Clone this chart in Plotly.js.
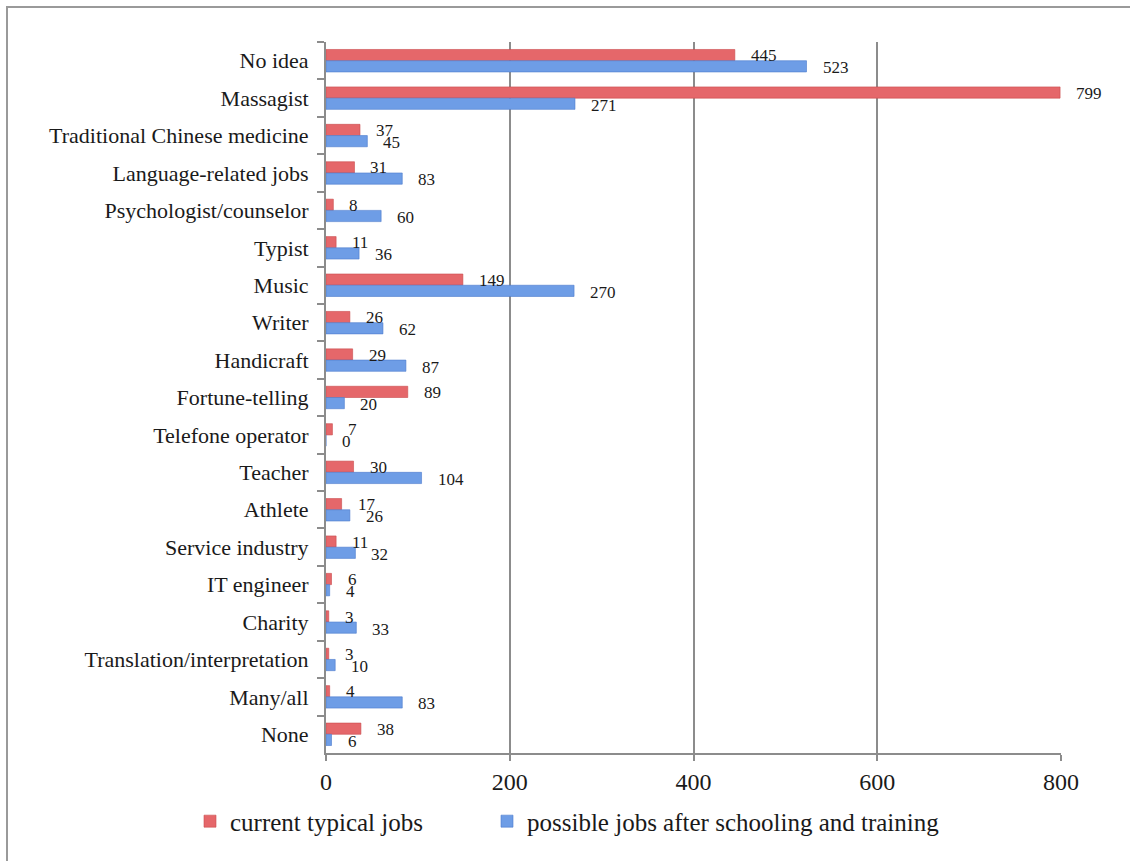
<!DOCTYPE html>
<html>
<head>
<meta charset="utf-8">
<script src="https://cdn.plot.ly/plotly-3.0.1.min.js"></script>
<style>
html,body{margin:0;padding:0;background:#fff;}
#wrap{position:relative;width:1130px;height:861px;overflow:hidden;}
#frame{position:absolute;left:6px;top:6px;width:1200px;height:1000px;border-top:2px solid #9a9a9a;border-left:2px solid #9a9a9a;pointer-events:none;z-index:5;}
#chart{position:absolute;left:0;top:0;width:1130px;height:861px;}
</style>
</head>
<body>
<div id="wrap"><div id="chart"></div><div id="frame"></div></div>
<script>
const categories = ["No idea","Massagist","Traditional Chinese medicine","Language-related jobs","Psychologist/counselor","Typist","Music","Writer","Handicraft","Fortune-telling","Telefone operator","Teacher","Athlete","Service industry","IT engineer","Charity","Translation/interpretation","Many/all","None"];
const currentJobs = [445,799,37,31,8,11,149,26,29,89,7,30,17,11,6,3,3,4,38];
const possibleJobs = [523,271,45,83,60,36,270,62,87,20,0,104,26,32,4,33,10,83,6];
const seriesNames = ["current typical jobs","possible jobs after schooling and training"];
const xTicks = [0,200,400,600,800];

const serif = "Liberation Serif, Times New Roman, serif";

const traces = [
  {type:'bar', orientation:'h', name:seriesNames[0], y:categories, x:currentJobs, legend:'legend',
   marker:{color:'#E5676A', line:{color:'#C94B4E', width:0.6}}, hoverinfo:'x+y'},
  {type:'bar', orientation:'h', name:seriesNames[1], y:categories, x:possibleJobs, legend:'legend2',
   marker:{color:'#6E9DE6', line:{color:'#4C7BCC', width:0.6}}, hoverinfo:'x+y'}
];

const annotations = [];
categories.forEach((c,i)=>{
  annotations.push({x:currentJobs[i], y:c, xref:'x', yref:'y', text:String(currentJobs[i]),
    showarrow:false, xanchor:'left', yanchor:'middle', xshift:14, yshift:5,
    font:{family:serif, size:17, color:'#1a1a1a'}});
  annotations.push({x:possibleJobs[i], y:c, xref:'x', yref:'y', text:String(possibleJobs[i]),
    showarrow:false, xanchor:'left', yanchor:'middle', xshift:14, yshift:-7,
    font:{family:serif, size:17, color:'#1a1a1a'}});
});

const legendCommon = {orientation:'h', xref:'container', yref:'container', xanchor:'left', y:0.046, yanchor:'middle',
  font:{family:serif, size:25, color:'#1a1a1a'}, itemwidth:30, bgcolor:'rgba(0,0,0,0)'};

const layout = {
  width:1130, height:861,
  margin:{l:326, r:69, t:42, b:108},
  paper_bgcolor:'#fff', plot_bgcolor:'#fff',
  barmode:'group', bargap:0.4, bargroupgap:0,
  showlegend:true,
  legend:Object.assign({}, legendCommon, {x:190/1130}),
  legend2:Object.assign({}, legendCommon, {x:487/1130}),
  xaxis:{range:[0,800], tickvals:xTicks, ticktext:xTicks.map(String), showgrid:true, gridcolor:'#8c8c8c', gridwidth:2,
    zeroline:false, showline:true, linecolor:'#8c8c8c', linewidth:2, ticks:'outside', ticklen:6, tickcolor:'#8c8c8c', tickwidth:2,
    tickfont:{family:serif, size:24, color:'#1a1a1a'}, fixedrange:true},
  yaxis:{type:'category', categoryorder:'array', categoryarray:categories, autorange:'reversed',
    showline:true, linecolor:'#8c8c8c', linewidth:2, ticks:'outside', ticklen:7, tickcolor:'#8c8c8c', tickwidth:2,
    tickson:'boundaries', showgrid:false, ticksuffix:'  ',
    tickfont:{family:serif, size:22, color:'#1a1a1a'}, fixedrange:true},
  annotations:annotations
};

Plotly.newPlot('chart', traces, layout, {displayModeBar:false, staticPlot:true});
</script>
</body>
</html>
